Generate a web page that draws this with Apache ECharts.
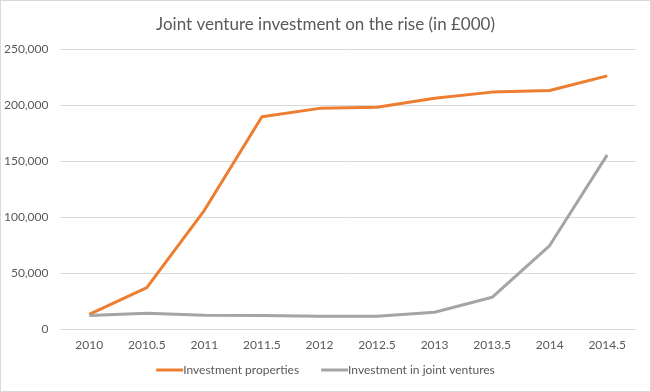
<!DOCTYPE html>
<html>
<head>
<meta charset="utf-8">
<script src="https://cdn.jsdelivr.net/npm/echarts@6/dist/echarts.min.js"></script>
<style>
html,body{margin:0;padding:0;background:#fff;}
#c{width:651px;height:392px;box-sizing:border-box;border:1px solid #d9d9d9;}
</style>
</head>
<body>
<div id="c"></div>
<script>
const titleText = 'Joint venture investment on the rise (in £000)';
const categories = ['2010','2010.5','2011','2011.5','2012','2012.5','2013','2013.5','2014','2014.5'];
const investmentProperties = [13000, 37000, 106000, 189500, 197000, 198000, 206000, 211500, 213000, 226000];
const jointVentures = [12000, 14000, 12200, 12000, 11300, 11300, 15000, 28300, 74500, 155500];
const yTicks = [0, 50000, 100000, 150000, 200000, 250000];

const chart = echarts.init(document.getElementById('c'), null, {renderer:'canvas'});
const fontFam = 'Lato, "Open Sans", sans-serif';
chart.setOption({
  animation:false,
  title:{text:titleText,left:'center',top:10,textStyle:{fontFamily:fontFam,fontWeight:'normal',fontSize:17,color:'#595959'}},
  grid:{left:59,right:14,top:48,bottom:62,containLabel:false},
  legend:{bottom:10,left:'center',icon:'rect',itemWidth:27,itemHeight:3,itemGap:22,
    textStyle:{fontFamily:fontFam,fontSize:12,color:'#595959',padding:[0,0,0,-5]},
    data:['Investment properties','Investment in joint ventures']},
  xAxis:{type:'category',data:categories,boundaryGap:true,
    axisLine:{lineStyle:{color:'#d9d9d9'}},axisTick:{show:false},
    axisLabel:{color:'#595959',fontFamily:fontFam,fontSize:12,margin:10}},
  yAxis:{type:'value',min:yTicks[0],max:yTicks[yTicks.length-1],interval:50000,
    axisLine:{show:false},axisTick:{show:false},
    splitLine:{lineStyle:{color:'#d9d9d9'}},
    axisLabel:{color:'#595959',fontFamily:fontFam,fontSize:12,margin:12,
      formatter:v=>v.toLocaleString('en-US')}},
  series:[
    {name:'Investment properties',type:'line',data:investmentProperties,showSymbol:false,symbol:'none',
      lineStyle:{color:'#ED7D31',width:3},itemStyle:{color:'#ED7D31'}},
    {name:'Investment in joint ventures',type:'line',data:jointVentures,showSymbol:false,symbol:'none',
      lineStyle:{color:'#A5A5A5',width:3},itemStyle:{color:'#A5A5A5'}}
  ]
});
</script>
</body>
</html>
